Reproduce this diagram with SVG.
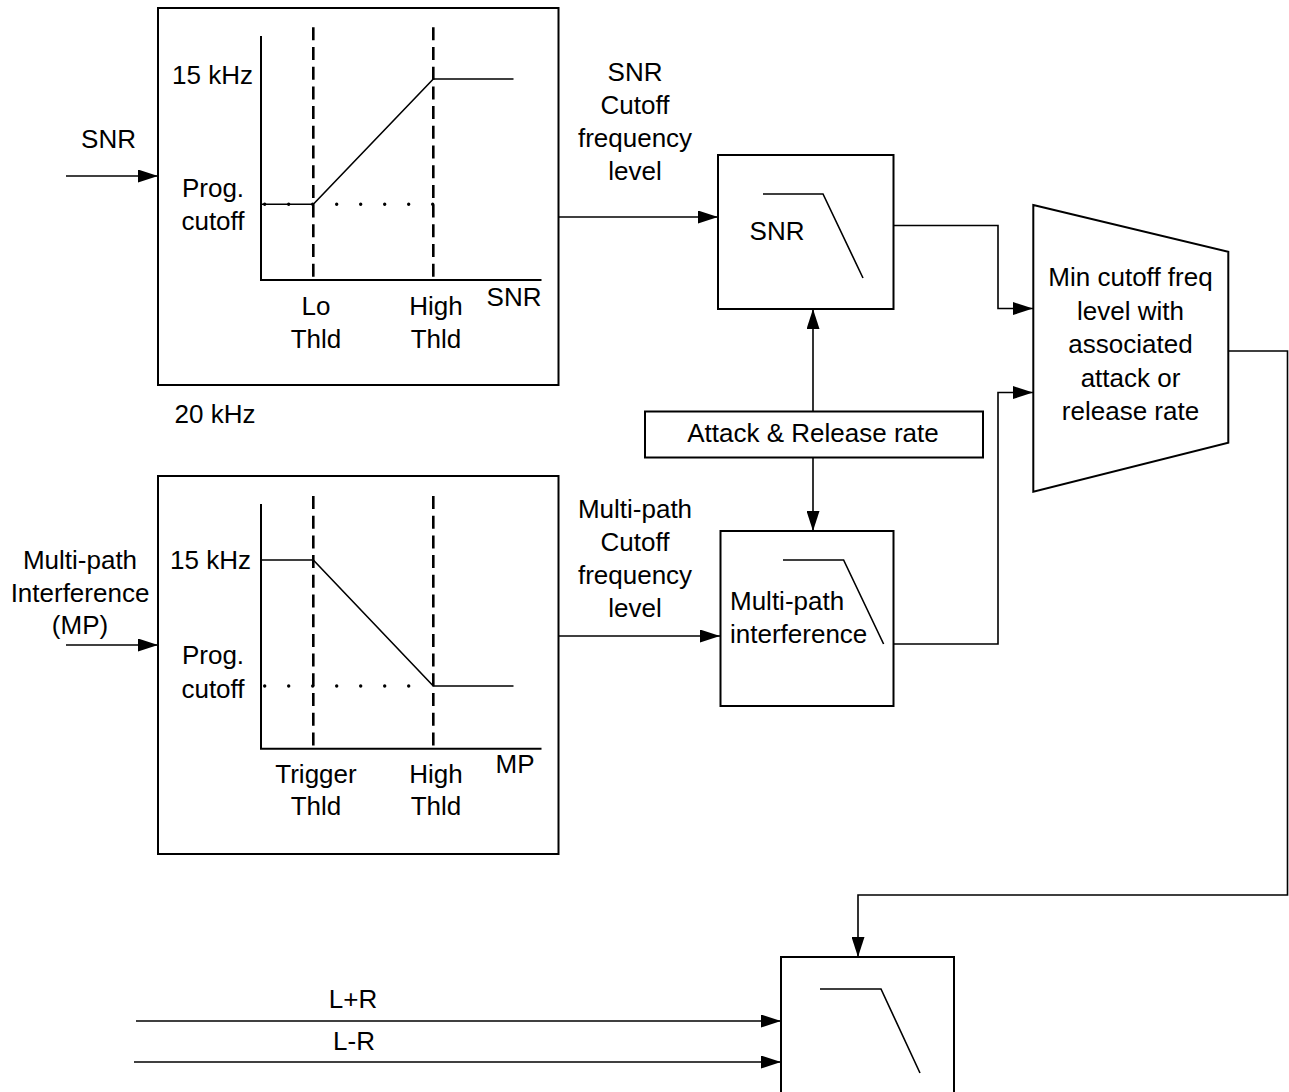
<svg xmlns="http://www.w3.org/2000/svg" width="1289" height="1092" viewBox="0 0 1289 1092">
<defs>
<marker id="ah" markerUnits="userSpaceOnUse" markerWidth="20" markerHeight="13" refX="20" refY="6.5" orient="auto">
<path d="M0,0 L20,6.5 L0,13 z" fill="#000"/>
</marker>
<style>
text{font-family:"Liberation Sans",Arial,sans-serif;font-size:26px;fill:#000}
.m{text-anchor:middle}
.e{text-anchor:end}
.box{fill:#fff;stroke:#000;stroke-width:2}
.ln{fill:none;stroke:#000;stroke-width:1.6}
.ax{fill:none;stroke:#000;stroke-width:2}
.dash{fill:none;stroke:#000;stroke-width:2.6;stroke-dasharray:13 6.7}
.dot{fill:none;stroke:#000;stroke-width:3.4;stroke-linecap:round;stroke-dasharray:0 24}
.arr{fill:none;stroke:#000;stroke-width:1.6;marker-end:url(#ah)}
</style>
</defs>
<rect width="1289" height="1092" fill="#fff"/>

<g id="connectors">
<path class="arr" d="M66,176 H158"/>
<path class="arr" d="M559,217 H718"/>
<path class="arr" d="M893,225.5 H998 V308.5 H1033"/>
<path class="arr" d="M66,645 H158"/>
<path class="arr" d="M559,636 H720"/>
<path class="arr" d="M893,644 H998 V392.5 H1033"/>
<path class="arr" d="M813,411 V309"/>
<path class="arr" d="M813,458 V531"/>
<path class="arr" d="M1229,351 H1287.5 V895 H858 V957"/>
<path class="arr" d="M136,1021 H781"/>
<path class="arr" d="M134,1062 H781"/>
</g>

<g id="snr-input-label"><text class="m" x="108.5" y="148">SNR</text></g>

<g id="snr-chart">
<rect class="box" x="158" y="8" width="400.5" height="377"/>
<path class="ax" d="M261,36 V280 H541.5"/>
<path class="dash" d="M313.3,27.3 V280"/>
<path class="dash" d="M433.3,27.3 V280"/>
<path class="ln" d="M262,204.3 H313.3 L433.3,79 H513.5"/>
<path class="dot" d="M264.7,204.3 H435"/>
<text class="e" x="253" y="84">15 kHz</text>
<text class="m" x="213" y="197">Prog.</text>
<text class="m" x="213" y="230">cutoff</text>
<text class="m" x="316" y="315">Lo</text>
<text class="m" x="316" y="348">Thld</text>
<text class="m" x="436" y="315">High</text>
<text class="m" x="436" y="348">Thld</text>
<text class="e" x="541.5" y="306">SNR</text>
</g>

<g id="label-20khz"><text class="m" x="215" y="423">20 kHz</text></g>

<g id="snr-cutoff-label">
<text class="m" x="635" y="81">SNR</text>
<text class="m" x="635" y="114">Cutoff</text>
<text class="m" x="635" y="147">frequency</text>
<text class="m" x="635" y="180">level</text>
</g>

<g id="snr-filter">
<rect class="box" x="718" y="155" width="175.5" height="154"/>
<path class="ln" d="M763,194 H823 L863,278"/>
<text class="m" x="777" y="240">SNR</text>
</g>

<g id="attack-release">
<rect class="box" x="645" y="411.5" width="338" height="46"/>
<text class="m" x="813" y="442">Attack &amp; Release rate</text>
</g>

<g id="min-selector">
<polygon class="box" points="1033.3,205 1228.3,251.7 1228.3,442.7 1033.3,491.7"/>
<text class="m" x="1130.5" y="286">Min cutoff freq</text>
<text class="m" x="1130.5" y="319.5">level with</text>
<text class="m" x="1130.5" y="353">associated</text>
<text class="m" x="1130.5" y="386.5">attack or</text>
<text class="m" x="1130.5" y="420">release rate</text>
</g>

<g id="mp-input-label">
<text class="m" x="80" y="569">Multi-path</text>
<text class="m" x="80" y="602">Interference</text>
<text class="m" x="80" y="634">(MP)</text>
</g>

<g id="mp-chart">
<rect class="box" x="158" y="476" width="400.5" height="378"/>
<path class="ax" d="M261,504 V748.7 H541.5"/>
<path class="dash" d="M313.3,496 V748.7"/>
<path class="dash" d="M433.3,496 V748.7"/>
<path class="ln" d="M261,560 H313.3 L433.3,686 H513.5"/>
<path class="dot" d="M264.7,686 H420"/>
<text class="e" x="251" y="569">15 kHz</text>
<text class="m" x="213" y="664">Prog.</text>
<text class="m" x="213" y="698">cutoff</text>
<text class="m" x="316" y="783">Trigger</text>
<text class="m" x="316" y="815">Thld</text>
<text class="m" x="436" y="783">High</text>
<text class="m" x="436" y="815">Thld</text>
<text class="m" x="515" y="773">MP</text>
</g>

<g id="mp-cutoff-label">
<text class="m" x="635" y="518">Multi-path</text>
<text class="m" x="635" y="551">Cutoff</text>
<text class="m" x="635" y="584">frequency</text>
<text class="m" x="635" y="617">level</text>
</g>

<g id="mp-filter">
<rect class="box" x="720.5" y="531" width="173" height="175"/>
<path class="ln" d="M783,560 H843.6 L883.6,644"/>
<text x="730" y="610">Multi-path</text>
<text x="730" y="643">interference</text>
</g>

<g id="output-filter">
<rect class="box" x="781" y="957" width="173" height="150"/>
<path class="ln" d="M820,989 H881 L920,1073"/>
</g>

<g id="lr-labels">
<text class="m" x="353" y="1008">L+R</text>
<text class="m" x="354" y="1050">L-R</text>
</g>
</svg>
